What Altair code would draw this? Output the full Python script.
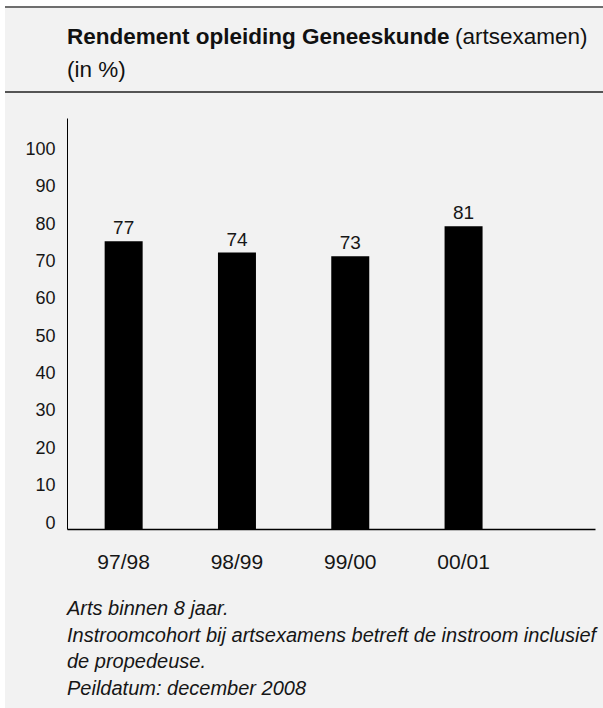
import altair as alt
import pandas as pd

# Cohorts and share of students with the medical degree (%)
cohorts = ["97/98", "98/99", "99/00", "00/01"]
rendement = [77, 74, 73, 81]
y_ticks = [0, 10, 20, 30, 40, 50, 60, 70, 80, 90, 100]

title_bold = "Rendement opleiding Geneeskunde"
title_rest = "(artsexamen)"
title_unit = "(in %)"
notes = [
    "Arts binnen 8 jaar.",
    "Instroomcohort bij artsexamens betreft de instroom inclusief",
    "de propedeuse.",
    "Peildatum: december 2008",
]

FONT = "Liberation Sans"
PANEL = "#f2f2f2"
INK = "#161616"

df = pd.DataFrame({"cohort": cohorts, "pct": rendement})
one = pd.DataFrame({"k": [0]})

# Bands start at the y axis; the spare room sits to the right of the last bar
x_enc = alt.X(
    "cohort:N",
    sort=cohorts,
    scale=alt.Scale(domain=cohorts, paddingInner=0, paddingOuter=0.33, align=0),
    axis=alt.Axis(
        title=None, labelAngle=0, ticks=False, labelPadding=22,
        labelFontSize=21, labelFont=FONT, labelColor=INK,
        domainColor="#000000", domainWidth=1.5, zindex=1,
    ),
)
y_enc = alt.Y(
    "pct:Q",
    scale=alt.Scale(domain=[0, 110], nice=False),
    axis=alt.Axis(
        title=None, values=y_ticks, ticks=False, grid=False, labelPadding=12,
        labelFontSize=18, labelFont=FONT, labelColor=INK, labelOffset=-6,
        domainColor="#000000", domainWidth=1, zindex=1,
    ),
)

# Grey panel behind everything, with the rules at the top and under the title
panel = alt.Chart(one).mark_rect(color=PANEL).encode(
    x=alt.value(-62), x2=alt.value(536), y=alt.value(-111), y2=alt.value(590)
)
top_rule = alt.Chart(one).mark_rule(color="#6e6e6e", strokeWidth=2).encode(
    x=alt.value(-62), x2=alt.value(536), y=alt.value(-111)
)
sep_rule = alt.Chart(one).mark_rule(color="#555555", strokeWidth=2).encode(
    x=alt.value(-62), x2=alt.value(536), y=alt.value(-26)
)

bars = alt.Chart(df).mark_bar(color="#000000", size=38).encode(x=x_enc, y=y_enc)

values = alt.Chart(df).mark_text(
    baseline="alphabetic", dy=-7, fontSize=19, font=FONT, color=INK
).encode(x=alt.X("cohort:N", sort=cohorts), y="pct:Q", text="pct:Q")

t_bold = alt.Chart(one).mark_text(
    align="left", baseline="alphabetic", font=FONT, fontSize=22.5,
    fontWeight="bold", color="#111111"
).encode(x=alt.value(0), y=alt.value(-74), text=alt.value(title_bold))
t_rest = alt.Chart(one).mark_text(
    align="left", baseline="alphabetic", font=FONT, fontSize=22.5, color="#111111"
).encode(x=alt.value(388), y=alt.value(-74), text=alt.value(title_rest))
t_unit = alt.Chart(one).mark_text(
    align="left", baseline="alphabetic", font=FONT, fontSize=22.5, color="#111111"
).encode(x=alt.value(0), y=alt.value(-41), text=alt.value(title_unit))

footnotes = alt.Chart(one).mark_text(
    align="left", baseline="alphabetic", font=FONT, fontSize=20,
    fontStyle="italic", lineHeight=26.7, color=INK
).encode(x=alt.value(0), y=alt.value(497), text=alt.value(notes))

chart = alt.layer(
    panel, top_rule, sep_rule, bars, values, t_bold, t_rest, t_unit, footnotes
).properties(
    width=528,
    height=411,
    autosize=alt.AutoSizeParams(type="none"),
    padding={"left": 67, "top": 118, "right": 8, "bottom": 179},
    background="#ffffff",
).configure_view(stroke=None)

chart.save("out.html", embed_options={"renderer": "svg", "actions": False})
